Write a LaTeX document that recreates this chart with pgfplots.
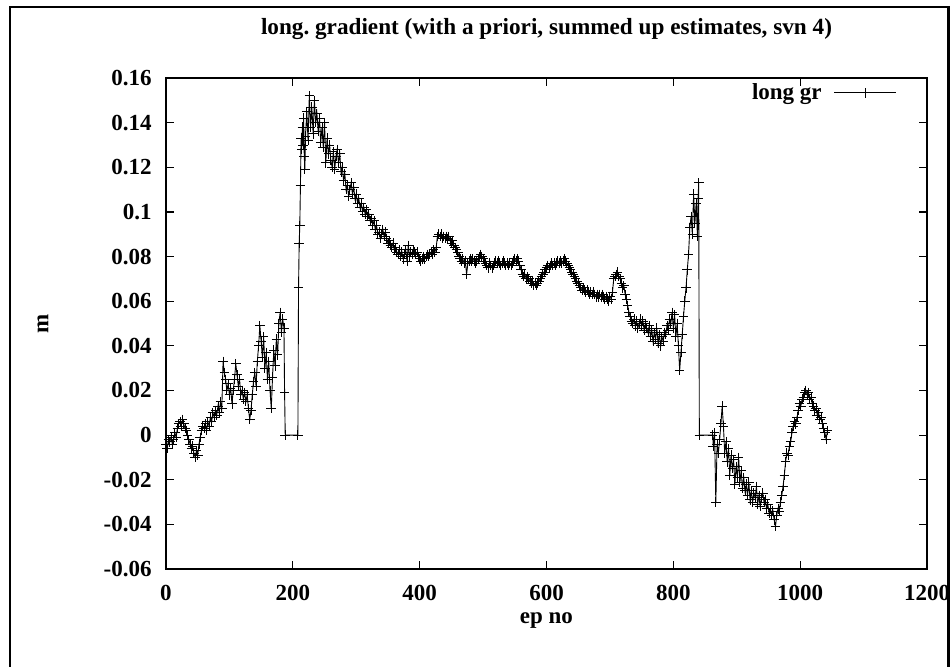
\documentclass[border=0pt]{standalone}
\usepackage{fontspec}
\setmainfont{Liberation Serif}
\usepackage{pgfplots}
\usepackage{pgfplotstable}
\pgfplotsset{compat=1.18}
\frenchspacing
\pgfplotstableread{
ep val
0 -0.004
2 -0.006
4 -0.002
6 -0.003
8 -0.001
10 -0.004
12 -0.002
14 0.001
16 -0.001
18 0.003
20 0.005
22 0.006
24 0.004
26 0.007
28 0.005
30 0.003
32 0.002
34 0.000
36 -0.002
38 -0.004
40 -0.006
42 -0.005
44 -0.008
46 -0.010
48 -0.007
50 -0.009
52 -0.004
54 -0.001
56 0.002
58 0.004
60 0.003
62 0.005
64 0.002
66 0.006
68 0.004
70 0.008
72 0.006
74 0.010
76 0.008
78 0.011
80 0.009
82 0.013
84 0.010
86 0.015
88 0.012
90 0.033
92 0.028
94 0.025
96 0.020
98 0.023
100 0.018
102 0.021
104 0.014
106 0.020
108 0.025
110 0.032
112 0.027
114 0.022
116 0.025
118 0.018
120 0.020
122 0.016
124 0.019
126 0.015
128 0.018
130 0.012
132 0.007
134 0.011
136 0.018
138 0.024
140 0.028
142 0.022
144 0.033
146 0.040
148 0.049
150 0.042
152 0.035
154 0.044
156 0.030
158 0.037
160 0.025
162 0.033
164 0.020
166 0.012
168 0.026
170 0.038
172 0.031
174 0.043
176 0.036
178 0.050
180 0.055
182 0.046
184 0.052
186 0.048
187 0.019
188 0.000
208 0.000
209 0.066
210 0.086
211 0.094
212 0.112
213 0.133
214 0.128
215 0.138
216 0.130
217 0.142
218 0.125
219 0.119
220 0.134
222 0.145
224 0.132
226 0.152
228 0.138
230 0.147
232 0.135
234 0.150
236 0.140
238 0.144
240 0.136
242 0.142
244 0.131
246 0.138
248 0.129
250 0.140
252 0.122
254 0.133
256 0.126
258 0.130
260 0.123
262 0.120
264 0.127
266 0.119
268 0.125
270 0.128
272 0.122
274 0.126
276 0.118
278 0.120
280 0.114
282 0.117
284 0.110
286 0.112
288 0.107
290 0.110
292 0.113
294 0.108
296 0.111
298 0.106
300 0.108
302 0.104
304 0.106
306 0.102
308 0.104
310 0.100
312 0.102
314 0.099
316 0.101
318 0.098
320 0.099
322 0.096
324 0.097
326 0.094
328 0.096
330 0.092
332 0.094
334 0.090
336 0.091
338 0.088
340 0.090
342 0.092
344 0.089
346 0.091
348 0.088
350 0.086
352 0.087
354 0.085
356 0.084
358 0.086
360 0.083
362 0.084
364 0.082
366 0.081
368 0.083
370 0.080
372 0.082
374 0.079
376 0.081
378 0.083
380 0.078
382 0.085
384 0.080
386 0.082
388 0.081
390 0.083
392 0.082
394 0.081
396 0.082
398 0.080
400 0.079
402 0.078
404 0.079
406 0.080
408 0.079
410 0.080
412 0.081
414 0.080
416 0.081
418 0.082
420 0.081
422 0.083
424 0.082
426 0.084
428 0.089
430 0.090
432 0.089
434 0.090
436 0.088
438 0.089
440 0.088
442 0.089
444 0.088
446 0.089
448 0.087
450 0.086
452 0.087
454 0.085
456 0.084
458 0.083
460 0.082
462 0.080
464 0.079
466 0.078
468 0.079
470 0.077
472 0.078
474 0.072
476 0.077
478 0.078
480 0.079
482 0.078
484 0.079
486 0.078
488 0.077
490 0.078
492 0.079
494 0.080
496 0.081
498 0.080
500 0.079
502 0.078
504 0.077
506 0.076
508 0.075
510 0.077
512 0.076
514 0.075
516 0.076
518 0.077
520 0.078
522 0.077
524 0.078
526 0.077
528 0.076
530 0.077
532 0.078
534 0.077
536 0.076
538 0.077
540 0.076
542 0.077
544 0.076
546 0.077
548 0.078
550 0.079
552 0.078
554 0.079
556 0.078
558 0.076
560 0.074
562 0.072
564 0.071
566 0.072
568 0.070
570 0.071
572 0.070
574 0.069
576 0.068
578 0.069
580 0.067
582 0.068
584 0.067
586 0.068
588 0.069
590 0.070
592 0.071
594 0.072
596 0.073
598 0.074
600 0.075
602 0.076
604 0.075
606 0.076
608 0.077
610 0.076
612 0.077
614 0.076
616 0.077
618 0.078
620 0.077
622 0.078
624 0.077
626 0.078
628 0.079
630 0.078
632 0.077
634 0.076
636 0.075
638 0.074
640 0.073
642 0.072
644 0.071
646 0.070
648 0.069
650 0.068
652 0.067
654 0.066
656 0.065
658 0.066
660 0.065
662 0.064
664 0.065
666 0.064
668 0.063
670 0.064
672 0.063
674 0.064
676 0.063
678 0.062
680 0.063
682 0.062
684 0.063
686 0.062
688 0.063
690 0.062
692 0.061
694 0.062
696 0.061
698 0.060
700 0.062
702 0.061
704 0.064
706 0.070
708 0.071
710 0.072
712 0.073
714 0.071
716 0.070
718 0.068
720 0.066
722 0.067
724 0.063
726 0.061
728 0.058
730 0.055
732 0.053
734 0.051
736 0.050
738 0.052
740 0.049
742 0.051
744 0.048
746 0.050
748 0.052
750 0.049
752 0.051
754 0.047
756 0.050
758 0.048
760 0.046
762 0.049
764 0.044
766 0.047
768 0.042
770 0.046
772 0.043
774 0.048
776 0.041
778 0.045
780 0.040
782 0.044
784 0.042
786 0.046
788 0.045
790 0.049
792 0.047
794 0.052
796 0.050
798 0.055
800 0.048
802 0.054
804 0.044
806 0.050
808 0.040
810 0.029
812 0.037
814 0.045
816 0.053
818 0.060
820 0.066
822 0.074
824 0.081
826 0.093
828 0.098
830 0.090
832 0.108
834 0.095
836 0.104
838 0.089
839 0.106
840 0.113
841 0.000
862 0.000
863 -0.005
865 0.001
867 -0.030
869 -0.004
871 -0.008
873 -0.002
875 0.005
877 0.013
879 0.004
881 -0.008
883 -0.003
885 -0.012
887 -0.006
889 -0.018
891 -0.009
893 -0.015
895 -0.011
897 -0.022
899 -0.014
901 -0.019
903 -0.010
905 -0.021
907 -0.016
909 -0.024
911 -0.019
913 -0.025
915 -0.022
917 -0.027
919 -0.021
921 -0.029
923 -0.025
925 -0.030
927 -0.026
929 -0.028
931 -0.023
933 -0.031
935 -0.027
937 -0.032
939 -0.028
941 -0.026
943 -0.030
945 -0.029
947 -0.033
949 -0.031
951 -0.035
953 -0.033
955 -0.036
957 -0.034
959 -0.038
961 -0.041
963 -0.036
965 -0.033
967 -0.034
969 -0.030
971 -0.027
973 -0.023
975 -0.018
977 -0.012
979 -0.008
981 -0.009
983 -0.005
985 -0.003
987 0.001
989 0.004
991 0.006
993 0.005
995 0.008
997 0.011
999 0.014
1001 0.013
1003 0.016
1005 0.017
1007 0.019
1009 0.020
1011 0.018
1013 0.019
1015 0.016
1017 0.017
1019 0.014
1021 0.013
1023 0.011
1025 0.012
1027 0.009
1029 0.010
1031 0.007
1033 0.008
1035 0.005
1037 0.003
1039 0.001
1041 -0.002
1043 0.002
}\datatable
\begin{document}
\begin{tikzpicture}
\begin{axis}[
  at={(0,0)}, anchor=south west,
  scale only axis, width=380.5pt, height=245.5pt,
  xmin=0, xmax=1200, ymin=-0.06, ymax=0.16,
  xtick={0,200,400,600,800,1000,1200},
  xticklabels={0,200,400,600,800,1000,1200},
  ytick={-0.06,-0.04,-0.02,0,0.02,0.04,0.06,0.08,0.1,0.12,0.14,0.16},
  yticklabels={-0.06,-0.04,-0.02,0,0.02,0.04,0.06,0.08,0.1,0.12,0.14,0.16},
  tick align=inside, tick pos=both, major tick length=4pt,
  axis line style={line width=0.9pt},
  every tick/.style={black, line width=0.6pt},
  ticklabel style={font=\fontsize{11.5}{13}\selectfont\bfseries},
  x tick label style={anchor=center, inner sep=0pt, yshift=-12pt},
  y tick label style={anchor=east, inner sep=0pt, xshift=-7pt},
  title={long. gradient (with a priori, summed up estimates, svn 4)},
  title style={font=\fontsize{11.6}{13}\selectfont\bfseries, at={(0.5,1)}, anchor=center, yshift=18.5pt},
  xlabel={ep no},
  xlabel style={font=\fontsize{11.5}{13}\selectfont\bfseries, at={(0.5,0)}, anchor=center, yshift=-26pt},
  ylabel={m},
  ylabel style={font=\fontsize{11.5}{13}\selectfont\bfseries, at={(0,0.5)}, anchor=center, yshift=61.5pt},
  legend plot pos=right,
  legend cell align=right,
  legend style={draw=none, fill=none, at={(1,1)}, anchor=north east, xshift=-12pt, yshift=1.5pt,
    font=\fontsize{11.5}{13}\selectfont\bfseries, /tikz/column sep=4pt},
  legend image code/.code={\draw[#1, mark repeat=2, mark phase=2] plot coordinates {(0pt,0pt) (15.5pt,0pt) (31pt,0pt)};},
]
\addplot[black, line width=0.45pt, mark=+, mark size=2.4pt, mark options={line width=0.45pt}] table[x=ep, y=val] {\datatable};
\addlegendentry{long gr}
\end{axis}
\fill[white] (391.5pt,-70pt) rectangle (400pt,300pt);
\draw[line width=1pt] (-78pt,-70pt) -- (-78pt,281pt) -- (391pt,281pt);
\draw[line width=1.5pt] (391.25pt,281.5pt) -- (391.25pt,-70pt);
\pgfresetboundingbox
\useasboundingbox (-83pt,-48.5pt) rectangle (392.5pt,284.5pt);
\end{tikzpicture}
\end{document}
